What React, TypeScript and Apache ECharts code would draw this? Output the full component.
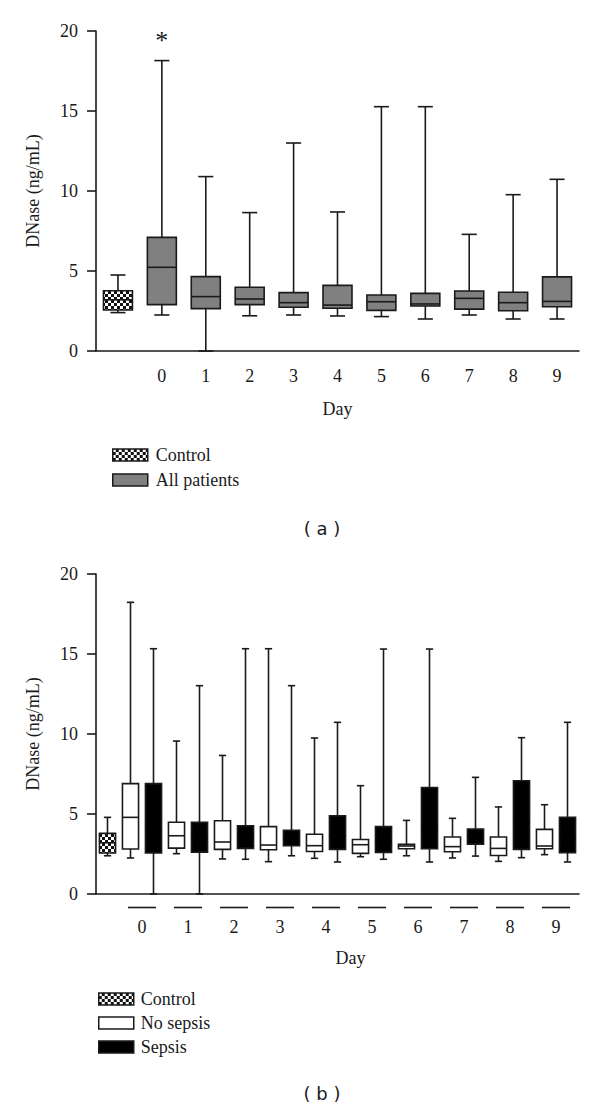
import React, { useEffect, useRef } from "react";
import * as echarts from "echarts";

// ---------- data ----------
const days = ["0", "1", "2", "3", "4", "5", "6", "7", "8", "9"];
const yTicks = [0, 5, 10, 15, 20];
// each box: [min, q1, median, q3, max]
const controlA = [2.4, 2.56, 3.2, 3.77, 4.75];
const allPatients = [
  [2.25, 2.9, 5.23, 7.1, 18.15],
  [0, 2.65, 3.4, 4.65, 10.9],
  [2.2, 2.9, 3.25, 3.98, 8.65],
  [2.25, 2.73, 3.02, 3.65, 13.0],
  [2.19, 2.67, 2.87, 4.1, 8.69],
  [2.15, 2.54, 3.08, 3.5, 15.27],
  [2.0, 2.81, 2.94, 3.6, 15.27],
  [2.25, 2.62, 3.29, 3.75, 7.29],
  [2.0, 2.52, 3.02, 3.67, 9.77],
  [2.0, 2.77, 3.1, 4.63, 10.73],
];
const significance = [{ day: "0", y: 19.6, mark: "*" }];
const controlB = [2.39, 2.56, 3.2, 3.79, 4.79];
const noSepsis = [
  [2.25, 2.81, 4.79, 6.9, 18.23],
  [2.52, 2.87, 3.64, 4.48, 9.56],
  [2.19, 2.79, 3.25, 4.58, 8.66],
  [2.02, 2.77, 3.06, 4.21, 15.33],
  [2.23, 2.66, 3.02, 3.73, 9.75],
  [2.33, 2.54, 3.08, 3.41, 6.77],
  [2.39, 2.83, 3.0, 3.1, 4.6],
  [2.25, 2.64, 2.96, 3.56, 4.73],
  [2.04, 2.41, 2.85, 3.56, 5.44],
  [2.46, 2.83, 3.0, 4.04, 5.58],
];
const sepsis = [
  [0, 2.56, 4.0, 6.9, 15.33],
  [0, 2.62, 3.5, 4.48, 13.02],
  [2.17, 2.85, 3.5, 4.27, 15.33],
  [2.39, 3.02, 3.5, 3.98, 13.02],
  [2.0, 2.79, 3.6, 4.89, 10.73],
  [2.17, 2.6, 3.3, 4.21, 15.31],
  [2.0, 2.83, 4.0, 6.66, 15.31],
  [2.37, 3.12, 3.6, 4.06, 7.29],
  [2.27, 2.79, 4.5, 7.08, 9.77],
  [2.0, 2.58, 3.4, 4.79, 10.73],
];

// ---------- style ----------
const INK = "#1a1a1a";
const GRAY = "#808080";
const SERIF = "Liberation Serif";
const SANS = "DejaVu Sans";

function makeChecker() {
  const c = document.createElement("canvas");
  c.width = 6;
  c.height = 6;
  const ctx = c.getContext("2d")!;
  ctx.fillStyle = "#111";
  ctx.fillRect(0, 0, 6, 6);
  ctx.fillStyle = "#fff";
  ctx.fillRect(0, 0, 3, 3);
  ctx.fillRect(3, 3, 3, 3);
  return c;
}

function boxRender(boxRatio: number, capRatio: number, fill: any, medianColor: string) {
  return (params: any, api: any) => {
    const c = api.value(0);
    const x = api.coord([c, api.value(1)])[0];
    const yMin = api.coord([c, api.value(1)])[1];
    const yQ1 = api.coord([c, api.value(2)])[1];
    const yMed = api.coord([c, api.value(3)])[1];
    const yQ3 = api.coord([c, api.value(4)])[1];
    const yMax = api.coord([c, api.value(5)])[1];
    const band = api.size([1, 0])[0];
    const w = band * boxRatio;
    const cw = w * capRatio;
    const st = { stroke: INK, lineWidth: 1.6 };
    return {
      type: "group",
      children: [
        { type: "line", shape: { x1: x, y1: yMax, x2: x, y2: yQ3 }, style: st },
        { type: "line", shape: { x1: x, y1: yQ1, x2: x, y2: yMin }, style: st },
        { type: "line", shape: { x1: x - cw / 2, y1: yMax, x2: x + cw / 2, y2: yMax }, style: st },
        { type: "line", shape: { x1: x - cw / 2, y1: yMin, x2: x + cw / 2, y2: yMin }, style: st },
        {
          type: "rect",
          shape: { x: x - w / 2, y: yQ3, width: w, height: yQ1 - yQ3 },
          style: { fill, stroke: INK, lineWidth: 1.6 },
        },
        { type: "line", shape: { x1: x - w / 2, y1: yMed, x2: x + w / 2, y2: yMed }, style: { stroke: medianColor, lineWidth: 1.6 } },
      ],
    };
  };
}

export default function App() {
  const ref = useRef<HTMLDivElement>(null);
  useEffect(() => {
    document.body.style.margin = "0";
    if (!ref.current) return;
    const chart = echarts.init(ref.current, null, { renderer: "svg" });
    const checker = { image: makeChecker(), repeat: "repeat" };

    const catsA = ["Control", ...days];
    const catsB = ["Control", ...days.flatMap((d) => [d + " no sepsis", d + " sepsis"])];

    const yAxisBase = (gridIndex: number) => ({
      gridIndex,
      type: "value",
      min: 0,
      max: 20,
      interval: 5,
      splitLine: { show: false },
      axisLine: { show: true, lineStyle: { color: INK, width: 1.6 } },
      axisTick: { show: true, length: 9, lineStyle: { color: INK, width: 1.6 } },
      axisLabel: {
        margin: 18,
        fontFamily: SERIF,
        fontSize: 18,
        color: INK,
        formatter: (v: number) => (yTicks.includes(v) ? String(v) : ""),
      },
      name: "DNase (ng/mL)",
      nameLocation: "middle",
      nameGap: 54,
      nameTextStyle: { fontFamily: SERIF, fontSize: 18, color: INK },
    });

    const xAxisBase = (gridIndex: number, data: string[]) => ({
      gridIndex,
      type: "category",
      data,
      axisLine: { lineStyle: { color: INK, width: 1.6 } },
      axisTick: { alignWithLabel: true, interval: 0, length: 5, lineStyle: { color: INK, width: 1.6 } },
      name: "Day",
      nameLocation: "middle",
      nameTextStyle: { fontFamily: SERIF, fontSize: 18, color: INK },
    });

    const option: any = {
      animation: false,
      textStyle: { fontFamily: SERIF },
      grid: [
        { left: 96, right: 21, top: 31, height: 320 },
        { left: 96, right: 21, top: 574, height: 320 },
      ],
      xAxis: [
        {
          ...xAxisBase(0, catsA),
          nameGap: 49,
          axisLabel: {
            interval: 0,
            margin: 16,
            fontFamily: SERIF,
            fontSize: 18,
            color: INK,
            formatter: (v: string) => (v === "Control" ? "" : v),
          },
        },
        {
          ...xAxisBase(1, catsB),
          nameGap: 55,
          nameTextStyle: { fontFamily: SERIF, fontSize: 18, color: INK, padding: [0, 0, 0, 26] },
          axisLabel: { show: false, interval: 0 },
        },
      ],
      yAxis: [yAxisBase(0), yAxisBase(1)],
      legend: [
        {
          orient: "vertical",
          left: 107,
          top: 441,
          itemWidth: 35,
          itemHeight: 12,
          itemGap: 7,
          icon: "rect",
          selectedMode: false,
          textStyle: { fontFamily: SERIF, fontSize: 18, color: INK, padding: [0, 0, 0, 3] },
          data: [
            { name: "Control", itemStyle: { color: checker, borderColor: INK, borderWidth: 1.5 } },
            { name: "All patients", itemStyle: { color: GRAY, borderColor: INK, borderWidth: 1.5 } },
          ],
        },
        {
          orient: "vertical",
          left: 93,
          top: 985,
          itemWidth: 35,
          itemHeight: 12,
          itemGap: 6,
          icon: "rect",
          selectedMode: false,
          textStyle: { fontFamily: SERIF, fontSize: 18, color: INK, padding: [0, 0, 0, 2] },
          data: [
            { name: "Control", itemStyle: { color: checker, borderColor: INK, borderWidth: 1.5 } },
            { name: "No sepsis", itemStyle: { color: "#fff", borderColor: INK, borderWidth: 1.5 } },
            { name: "Sepsis", itemStyle: { color: "#000", borderColor: INK, borderWidth: 1.5 } },
          ],
        },
      ],
      graphic: [
        { type: "text", x: 322, y: 528, style: { text: "( a )", fontFamily: SANS, fontSize: 18, fill: INK, align: "center", verticalAlign: "middle" } },
        { type: "text", x: 322, y: 1093, style: { text: "( b )", fontFamily: SANS, fontSize: 18, fill: INK, align: "center", verticalAlign: "middle" } },
      ],
      series: [
        {
          name: "Control",
          type: "custom",
          xAxisIndex: 0,
          yAxisIndex: 0,
          itemStyle: { color: GRAY },
          encode: { x: 0, y: [1, 2, 3, 4, 5] },
          renderItem: boxRender(0.66, 0.52, checker, INK),
          data: [[0, ...controlA]],
        },
        {
          name: "All patients",
          type: "custom",
          xAxisIndex: 0,
          yAxisIndex: 0,
          itemStyle: { color: GRAY },
          encode: { x: 0, y: [1, 2, 3, 4, 5] },
          renderItem: boxRender(0.66, 0.52, GRAY, INK),
          data: allPatients.map((b, i) => [i + 1, ...b]),
        },
        {
          name: "significance",
          type: "custom",
          xAxisIndex: 0,
          yAxisIndex: 0,
          encode: { x: 0, y: 1 },
          renderItem: (params: any, api: any) => {
            const p = api.coord([api.value(0), api.value(1)]);
            return {
              type: "text",
              x: p[0],
              y: p[1] + 3,
              style: { text: significance[params.dataIndex].mark, fontFamily: SERIF, fontSize: 26, fill: INK, align: "center", verticalAlign: "middle" },
            };
          },
          data: significance.map((s) => [days.indexOf(s.day) + 1, s.y]),
        },
        {
          name: "Control",
          type: "custom",
          xAxisIndex: 1,
          yAxisIndex: 1,
          itemStyle: { color: GRAY },
          encode: { x: 0, y: [1, 2, 3, 4, 5] },
          renderItem: boxRender(0.7, 0.45, checker, INK),
          data: [[0, ...controlB]],
        },
        {
          name: "No sepsis",
          type: "custom",
          xAxisIndex: 1,
          yAxisIndex: 1,
          itemStyle: { color: "#fff" },
          encode: { x: 0, y: [1, 2, 3, 4, 5] },
          renderItem: boxRender(0.7, 0.45, "#fff", INK),
          data: noSepsis.map((b, i) => [2 * i + 1, ...b]),
        },
        {
          name: "Sepsis",
          type: "custom",
          xAxisIndex: 1,
          yAxisIndex: 1,
          itemStyle: { color: "#000" },
          encode: { x: 0, y: [1, 2, 3, 4, 5] },
          renderItem: boxRender(0.7, 0.45, "#000", "#000"),
          data: sepsis.map((b, i) => [2 * i + 2, ...b]),
        },
        {
          name: "dayLabels",
          type: "custom",
          xAxisIndex: 1,
          yAxisIndex: 1,
          encode: { x: [0, 2], y: 1 },
          renderItem: (params: any, api: any) => {
            const p1 = api.coord([api.value(0), 0]);
            const p2 = api.coord([api.value(2), 0]);
            const mid = (p1[0] + p2[0]) / 2;
            const y0 = p1[1];
            return {
              type: "group",
              children: [
                { type: "line", shape: { x1: mid - 14, y1: y0 + 13.5, x2: mid + 14, y2: y0 + 13.5 }, style: { stroke: INK, lineWidth: 1.6 } },
                {
                  type: "text",
                  x: mid,
                  y: y0 + 33,
                  style: { text: days[params.dataIndex], fontFamily: SERIF, fontSize: 18, fill: INK, align: "center", verticalAlign: "middle" },
                },
              ],
            };
          },
          data: days.map((d, i) => [2 * i + 1, 0, 2 * i + 2]),
        },
      ],
    };
    chart.setOption(option);
    return () => chart.dispose();
  }, []);
  return <div ref={ref} style={{ width: 600, height: 1110 }} />;
}
